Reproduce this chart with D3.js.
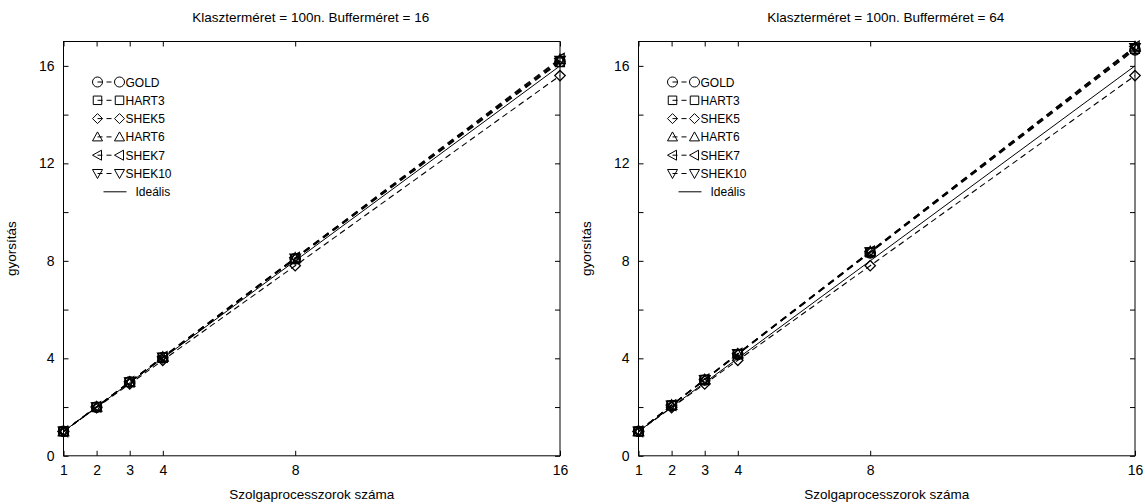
<!DOCTYPE html>
<html><head><meta charset="utf-8">
<script src="https://cdn.jsdelivr.net/npm/d3@7"></script>
<style>body{margin:0;background:#fff}svg{font-family:"Liberation Sans",Arial,sans-serif}</style>
</head><body>
<svg id="c" width="1145" height="504"></svg>
<script>
const procs = [1, 2, 3, 4, 8, 16];
const xTicks = [1, 2, 3, 4, 8, 16];
const yTicks = [0, 2, 4, 6, 8, 10, 12, 14, 16];
const yLabels = [0, 4, 8, 12, 16];
const seriesNames = ["GOLD", "HART3", "SHEK5", "HART6", "SHEK7", "SHEK10"];
const titles = ["Klaszterméret = 100n. Bufferméret = 16", "Klaszterméret = 100n. Bufferméret = 64"];
const xLabel = "Szolgaprocesszorok száma";
const yLabel = "gyorsítás";
const idealName = "Ideális";

// Buffer 16
const gold16   = [1, 2.00, 3.03, 4.03, 8.09, 16.18];
const hart3_16 = [1, 2.00, 3.02, 4.02, 8.07, 16.15];
const shek5_16 = [1, 1.98, 2.95, 3.92, 7.80, 15.60];
const hart6_16 = [1, 2.01, 3.03, 4.05, 8.12, 16.26];
const shek7_16 = [1, 2.01, 3.04, 4.06, 8.13, 16.30];
const shek10_16= [1, 2.00, 3.03, 4.04, 8.10, 16.22];
// Buffer 64
const gold64   = [1, 2.06, 3.11, 4.16, 8.33, 16.66];
const hart3_64 = [1, 2.07, 3.12, 4.17, 8.35, 16.70];
const shek5_64 = [1, 1.98, 2.95, 3.92, 7.80, 15.60];
const hart6_64 = [1, 2.08, 3.13, 4.19, 8.38, 16.78];
const shek7_64 = [1, 2.08, 3.14, 4.20, 8.39, 16.80];
const shek10_64= [1, 2.07, 3.12, 4.18, 8.36, 16.74];
const ideal = [1, 2, 3, 4, 8, 16];

const panels = [
  {title: titles[0], data: [gold16, hart3_16, shek5_16, hart6_16, shek7_16, shek10_16], x0: 63.5, x1: 560},
  {title: titles[1], data: [gold64, hart3_64, shek5_64, hart6_64, shek7_64, shek10_64], x0: 638.5, x1: 1135}
];
const symbols = [d3.symbolCircle, d3.symbolSquare, "diamond", "tri-up", "tri-left", "tri-down"];
const dashes = ["7,5", "7,5", "6,4", "7,5", "7,5", "7,5"];

function markerPath(type, r) {
  if (type === "diamond") return `M0,${-r}L${r},0L0,${r}L${-r},0Z`;
  if (type === "tri-up") return `M0,${-r}L${r},${r*0.8}L${-r},${r*0.8}Z`;
  if (type === "tri-down") return `M0,${r}L${r},${-r*0.8}L${-r},${-r*0.8}Z`;
  if (type === "tri-left") return `M${-r},0L${r*0.8},${-r}L${r*0.8},${r}Z`;
  if (type === d3.symbolCircle) return d3.symbol(d3.symbolCircle, Math.PI*r*r)();
  return d3.symbol(d3.symbolSquare, (2*r*0.85)*(2*r*0.85))();
}

const svg = d3.select("#c");
const yTop = 41.5, yBot = 455.8;

panels.forEach(p => {
  const g = svg.append("g");
  const x = d3.scaleLinear().domain([1, 16]).range([p.x0, p.x1]);
  const y = d3.scaleLinear().domain([0, 17]).range([yBot, yTop]);

  const line = d3.line().x((d, i) => x(procs[i])).y(d => y(d));
  g.append("path").datum(ideal).attr("d", line).attr("fill", "none").attr("stroke", "#000").attr("stroke-width", 1);
  p.data.forEach((s, k) => {
    g.append("path").datum(s).attr("d", line).attr("fill", "none").attr("stroke", "#000")
      .attr("stroke-width", 1.1).attr("stroke-dasharray", dashes[k]);
  });
  p.data.forEach((s, k) => {
    g.selectAll(null).data(s).enter().append("path")
      .attr("transform", (d, i) => `translate(${x(procs[i])},${y(d)})`)
      .attr("d", markerPath(symbols[k], 5.2))
      .attr("fill", "none").attr("stroke", "#000").attr("stroke-width", 1.3);
  });

  const ax = g.append("g").attr("transform", `translate(0,${yBot})`)
    .call(d3.axisBottom(x).tickValues(xTicks).tickSize(-5).tickPadding(9).tickFormat(d3.format("d")));
  const ay = g.append("g").attr("transform", `translate(${p.x0},0)`)
    .call(d3.axisLeft(y).tickValues(yTicks).tickSize(-5).tickPadding(9).tickFormat(d => yLabels.includes(d) ? d : ""));
  const ar = g.append("g").attr("transform", `translate(${p.x1},0)`)
    .call(d3.axisRight(y).tickValues(yTicks).tickSize(-5).tickFormat(""));
  const at = g.append("g").attr("transform", `translate(0,${yTop})`)
    .call(d3.axisTop(x).tickValues(xTicks).tickSize(-5).tickFormat(""));
  [ax, ay, ar, at].forEach(a => {
    a.select(".domain").remove();
    a.selectAll("line").attr("stroke", "#000");
    a.selectAll("text").attr("font-size", 14).attr("fill", "#000").attr("font-family", '"Liberation Sans",Arial,sans-serif');
  });
  g.append("rect").attr("x", p.x0).attr("y", yTop).attr("width", p.x1 - p.x0).attr("height", yBot - yTop)
    .attr("fill", "none").attr("stroke", "#000").attr("stroke-width", 1);

  g.append("text").attr("x", (p.x0 + p.x1) / 2 - 1).attr("y", 22).attr("text-anchor", "middle")
    .attr("font-size", 13.5).text(p.title);
  g.append("text").attr("x", (p.x0 + p.x1) / 2).attr("y", 499).attr("text-anchor", "middle")
    .attr("font-size", 13.5).text(xLabel);
  g.append("text").attr("transform", `translate(${p.x0 - 48},${(yTop + yBot) / 2}) rotate(-90)`)
    .attr("text-anchor", "middle").attr("font-size", 13.5).text(yLabel);

  const lx = p.x0 + 34, ly0 = 82, dy = 18.3;
  seriesNames.forEach((name, k) => {
    const yy = ly0 + k * dy;
    g.append("line").attr("x1", lx).attr("x2", lx + 22).attr("y1", yy).attr("y2", yy)
      .attr("stroke", "#000").attr("stroke-dasharray", "5,4,5,30");
    g.append("path").attr("transform", `translate(${lx},${yy})`).attr("d", markerPath(symbols[k], 5))
      .attr("fill", "none").attr("stroke", "#000");
    g.append("path").attr("transform", `translate(${lx + 22},${yy})`).attr("d", markerPath(symbols[k], 5))
      .attr("fill", "none").attr("stroke", "#000");
    g.append("text").attr("x", lx + 28).attr("y", yy + 4.5).attr("font-size", 12).text(name);
  });
  const yi = ly0 + 6 * dy;
  g.append("line").attr("x1", lx + 6).attr("x2", lx + 29).attr("y1", yi).attr("y2", yi).attr("stroke", "#000");
  g.append("text").attr("x", lx + 38).attr("y", yi + 4.5).attr("font-size", 12).text(idealName);
});
</script>
</body></html>
